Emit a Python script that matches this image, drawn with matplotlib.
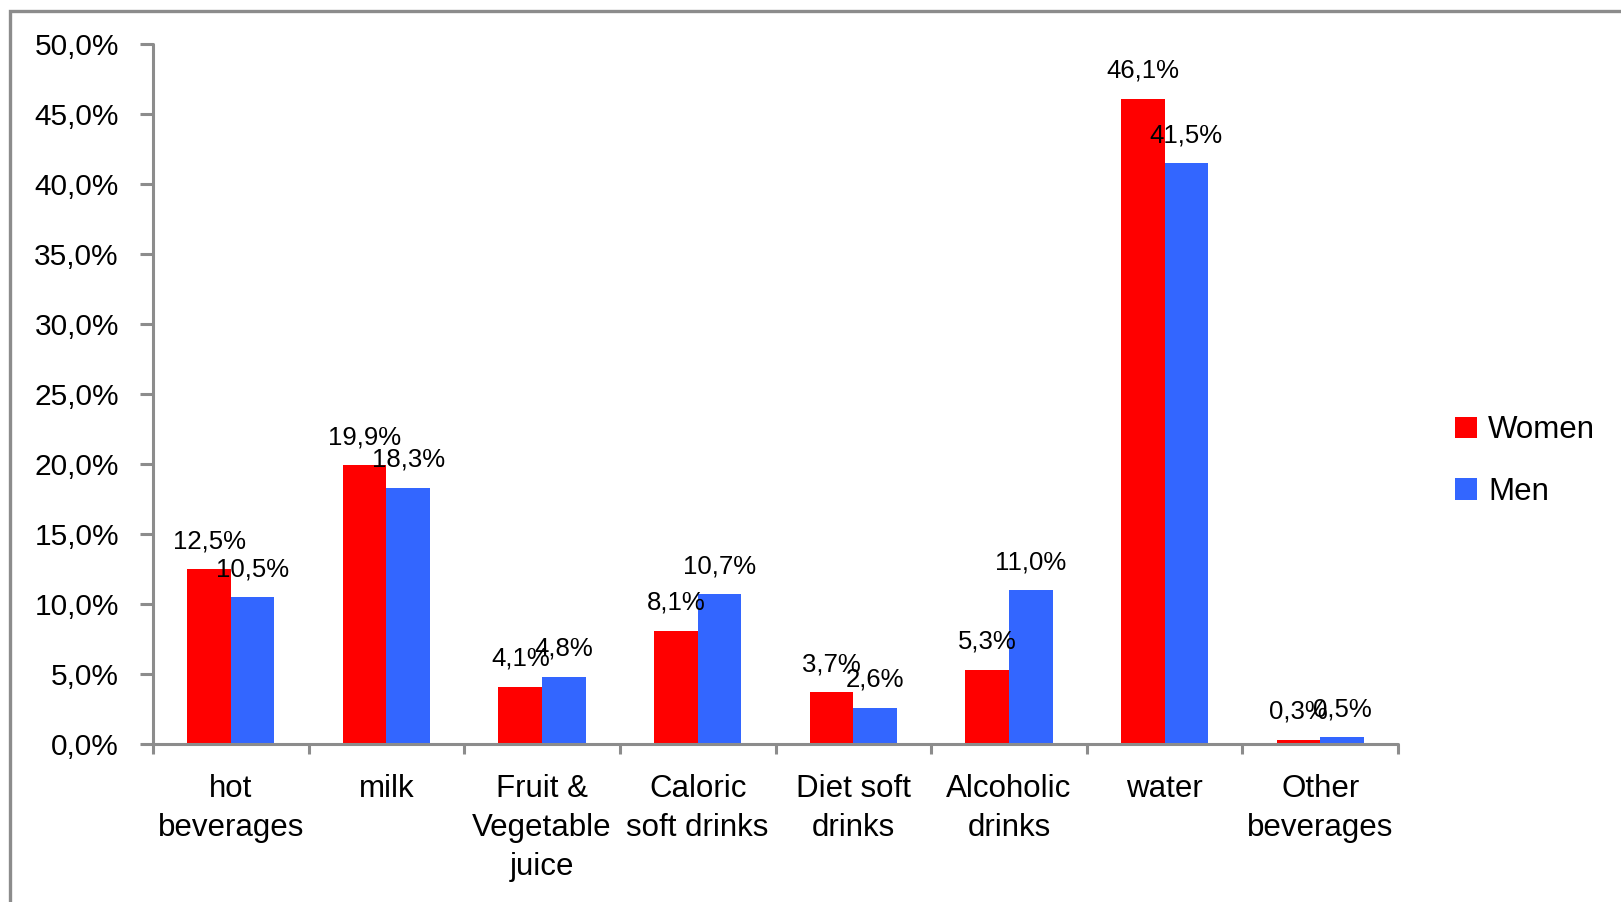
import matplotlib
matplotlib.use("Agg")
import matplotlib.pyplot as plt
from matplotlib.patches import Rectangle
import numpy as np

categories = ["hot\nbeverages", "milk", "Fruit &\nVegetable\njuice", "Caloric\nsoft drinks",
              "Diet soft\ndrinks", "Alcoholic\ndrinks", "water", "Other\nbeverages"]
women = [12.5, 19.9, 4.1, 8.1, 3.7, 5.3, 46.1, 0.3]
men = [10.5, 18.3, 4.8, 10.7, 2.6, 11.0, 41.5, 0.5]
series_names = ["Women", "Men"]
yticks = [0, 5, 10, 15, 20, 25, 30, 35, 40, 45, 50]

plt.rcParams["font.family"] = ["Liberation Sans", "DejaVu Sans"]

W, H = 1621, 902
fig = plt.figure(figsize=(W / 100, H / 100), dpi=100)
ax = fig.add_axes([153 / W, 1 - 744 / H, (1398 - 153) / W, (744 - 44) / H])

gray = "#8c8c8c"
red = "#ff0000"
blue = "#3366ff"

x = np.arange(len(categories))
bw = 0.28
b1 = ax.bar(x - bw / 2, women, bw, color=red, label=series_names[0], zorder=2)
b2 = ax.bar(x + bw / 2, men, bw, color=blue, label=series_names[1], zorder=2)

fmt = lambda v: f"{v:.1f}%".replace(".", ",")
for bars, vals in ((b1, women), (b2, men)):
    ax.bar_label(bars, labels=[fmt(v) for v in vals], padding=11.5, fontsize=18.5, color="black")

ax.set_xlim(-0.5, len(categories) - 0.5)
ax.set_ylim(0, 50)
ax.set_yticks(yticks)
ax.set_yticklabels([fmt(v) for v in yticks], fontsize=21.5)

# boundaries between categories get the tick marks, labels sit at the centres
ax.set_xticks(np.arange(-0.5, len(categories), 1.0))
ax.set_xticklabels([])
ax.set_xticks(x, minor=True)
ax.set_xticklabels(categories, minor=True, fontsize=22.5, linespacing=1.4)
ax.tick_params(axis="x", which="major", direction="out", length=7, width=2.2, color=gray)
ax.tick_params(axis="x", which="minor", length=0, pad=21.5)
ax.tick_params(axis="y", direction="out", length=9.5, width=2.2, color=gray, pad=15)

for s in ("top", "right"):
    ax.spines[s].set_visible(False)
for s in ("left", "bottom"):
    ax.spines[s].set_color(gray)
    ax.spines[s].set_linewidth(2.2)
    ax.spines[s].set_capstyle("round")

leg = ax.legend(loc="center left", bbox_to_anchor=(1427 / W, 1 - 461 / H),
                bbox_transform=fig.transFigure, frameon=False, fontsize=22.5,
                handlelength=0.7, handleheight=0.7, handletextpad=0.35, labelspacing=1.0)

# outer chart frame
fig.patches.append(Rectangle((9.5 / W, -0.1), 1.2, 1.1 - 11 / H, transform=fig.transFigure,
                             fill=False, edgecolor=gray, linewidth=2.4))

fig.savefig("out.png", dpi=100)
